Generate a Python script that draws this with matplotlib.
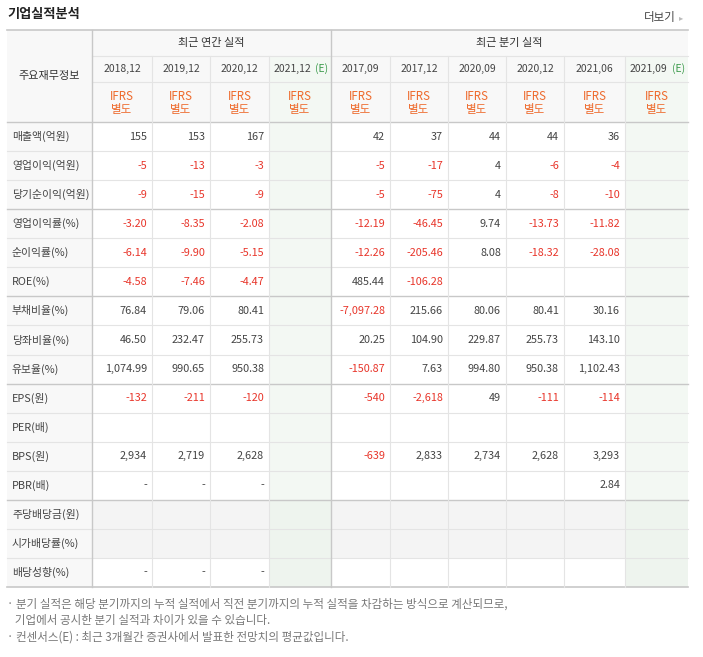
import matplotlib
matplotlib.use("Agg")
import matplotlib.pyplot as plt
from matplotlib.patches import Rectangle
from matplotlib import font_manager as fm

cjk = [f.name for f in fm.fontManager.ttflist if "CJK" in f.name]
pref = [n for n in ["Noto Sans CJK KR", "Noto Sans CJK JP", "Noto Sans CJK SC", "Noto Sans CJK TC"] if n in cjk]
fam = (pref or cjk or ["DejaVu Sans"])[0]
plt.rcParams["font.family"] = [fam, "DejaVu Sans"]

title = "기업실적분석"
more = "더보기"
group_annual = "최근 연간 실적"
group_quarter = "최근 분기 실적"
row_header = "주요재무정보"
periods = ["2018.12", "2019.12", "2020.12", "2021.12", "2017.09", "2017.12",
           "2020.09", "2020.12", "2021.06", "2021.09"]
estimate = [False, False, False, True, False, False, False, False, False, True]
row_labels = ["매출액(억원)", "영업이익(억원)", "당기순이익(억원)", "영업이익률(%)", "순이익률(%)",
              "ROE(%)", "부채비율(%)", "당좌비율(%)", "유보율(%)", "EPS(원)", "PER(배)",
              "BPS(원)", "PBR(배)", "주당배당금(원)", "시가배당률(%)", "배당성향(%)"]
values = [
    ["155", "153", "167", "", "42", "37", "44", "44", "36", ""],
    ["-5", "-13", "-3", "", "-5", "-17", "4", "-6", "-4", ""],
    ["-9", "-15", "-9", "", "-5", "-75", "4", "-8", "-10", ""],
    ["-3.20", "-8.35", "-2.08", "", "-12.19", "-46.45", "9.74", "-13.73", "-11.82", ""],
    ["-6.14", "-9.90", "-5.15", "", "-12.26", "-205.46", "8.08", "-18.32", "-28.08", ""],
    ["-4.58", "-7.46", "-4.47", "", "485.44", "-106.28", "", "", "", ""],
    ["76.84", "79.06", "80.41", "", "-7,097.28", "215.66", "80.06", "80.41", "30.16", ""],
    ["46.50", "232.47", "255.73", "", "20.25", "104.90", "229.87", "255.73", "143.10", ""],
    ["1,074.99", "990.65", "950.38", "", "-150.87", "7.63", "994.80", "950.38", "1,102.43", ""],
    ["-132", "-211", "-120", "", "-540", "-2,618", "49", "-111", "-114", ""],
    ["", "", "", "", "", "", "", "", "", ""],
    ["2,934", "2,719", "2,628", "", "-639", "2,833", "2,734", "2,628", "3,293", ""],
    ["-", "-", "-", "", "", "", "", "", "2.84", ""],
    ["", "", "", "", "", "", "", "", "", ""],
    ["", "", "", "", "", "", "", "", "", ""],
    ["-", "-", "-", "", "", "", "", "", "", ""],
]
notes = ["· 분기 실적은 해당 분기까지의 누적 실적에서 직전 분기까지의 누적 실적을 차감하는 방식으로 계산되므로,",
         "   기업에서 공시한 분기 실적과 차이가 있을 수 있습니다.",
         "· 컨센서스(E) : 최근 3개월간 증권사에서 발표한 전망치의 평균값입니다."]

W, H = 703, 657
fig = plt.figure(figsize=(W/100, H/100), dpi=100)
ax = fig.add_axes([0, 0, 1, 1])
ax.set_xlim(0, W); ax.set_ylim(H, 0); ax.axis("off")

xs = [7, 92, 152, 210, 269, 331, 390, 448, 506, 564, 625, 688]
top, y1, y2, y3 = 30, 56, 82, 122
rh = (587 - y3) / len(row_labels)
bottom = 587
LINE = "#e4e4e4"
DARK = "#c8c8c8"
GREEN_BG = "#f3f8f3"
HEAD_BG = "#f8f8f8"

ax.add_patch(Rectangle((xs[0], top), xs[-1]-xs[0], y3-top, color=HEAD_BG, lw=0))
ax.add_patch(Rectangle((xs[0], y3), xs[1]-xs[0], bottom-y3, color=HEAD_BG, lw=0))
for j in range(10):
    if estimate[j]:
        ax.add_patch(Rectangle((xs[j+1], y1), xs[j+2]-xs[j+1], bottom-y1, color=GREEN_BG, lw=0))
ax.add_patch(Rectangle((xs[1], y3+13*rh), xs[-1]-xs[1], 2*rh, color="#f4f4f4", lw=0))
for j in range(10):
    if estimate[j]:
        ax.add_patch(Rectangle((xs[j+1], y3+13*rh), xs[j+2]-xs[j+1], 3*rh, color="#eef4ee", lw=0))

ax.plot([xs[0], xs[-1]], [top, top], color=DARK, lw=1.2)
ax.plot([xs[1], xs[-1]], [y1, y1], color=LINE, lw=0.8)
ax.plot([xs[1], xs[-1]], [y2, y2], color=LINE, lw=0.8)
ax.plot([xs[0], xs[-1]], [y3, y3], color=DARK, lw=1)
for i in range(1, len(row_labels)):
    y = y3 + i*rh
    thick = i in (3, 6, 9, 13)
    ax.plot([xs[0], xs[-1]], [y, y], color=DARK if thick else LINE, lw=1 if thick else 0.8)
ax.plot([xs[0], xs[-1]], [bottom, bottom], color=DARK, lw=1.2)
for k, x in enumerate(xs[1:-1], start=1):
    y0 = top if k in (1, 5) else y1
    ax.plot([x, x], [y0, bottom], color=DARK if k in (1, 5) else LINE, lw=1 if k in (1, 5) else 0.8)

ax.text(7, 14, title, fontsize=9.5, fontweight="bold", color="#222", va="center")
ax.text(676, 18, more, fontsize=8.3, color="#444", va="center", ha="right")
ax.text(681, 18, "▸", fontsize=6, color="#bbb", va="center", ha="center")
ax.text((xs[1]+xs[5])/2, 43, group_annual, fontsize=8, color="#333", ha="center", va="center")
ax.text((xs[5]+xs[-1])/2, 43, group_quarter, fontsize=8, color="#333", ha="center", va="center")
ax.text((xs[0]+xs[1])/2, 76, row_header, fontsize=8, color="#333", ha="center", va="center")
for j in range(10):
    cx = (xs[j+1]+xs[j+2])/2
    if estimate[j]:
        ax.text(cx-8, 69, periods[j].replace(".", ","), fontsize=7.5, color="#444", ha="center", va="center")
        ax.text(cx+22, 69, "(E)", fontsize=7.5, color="#3a9a4a", ha="center", va="center")
    else:
        ax.text(cx, 69, periods[j].replace(".", ","), fontsize=7.5, color="#444", ha="center", va="center")
    ax.text(cx, 96, "IFRS", fontsize=8.3, color="#ee6a2c", ha="center", va="center")
    ax.text(cx, 109, "별도", fontsize=8.3, color="#ee6a2c", ha="center", va="center")

for i, lab in enumerate(row_labels):
    cy = y3 + (i+0.5)*rh
    ax.text(12, cy, lab, fontsize=7.8, color="#444", va="center")
    for j in range(10):
        v = values[i][j]
        if not v:
            continue
        col = "#e8352a" if v.startswith("-") and v != "-" else "#444"
        ax.text(xs[j+2]-5, cy, v, fontsize=7.8, color=col, ha="right", va="center")

for k, t in enumerate(notes):
    ax.text(7, 604 + k*16.5, t, fontsize=8.3, color="#777", va="center")

fig.savefig("out.png", dpi=100)
